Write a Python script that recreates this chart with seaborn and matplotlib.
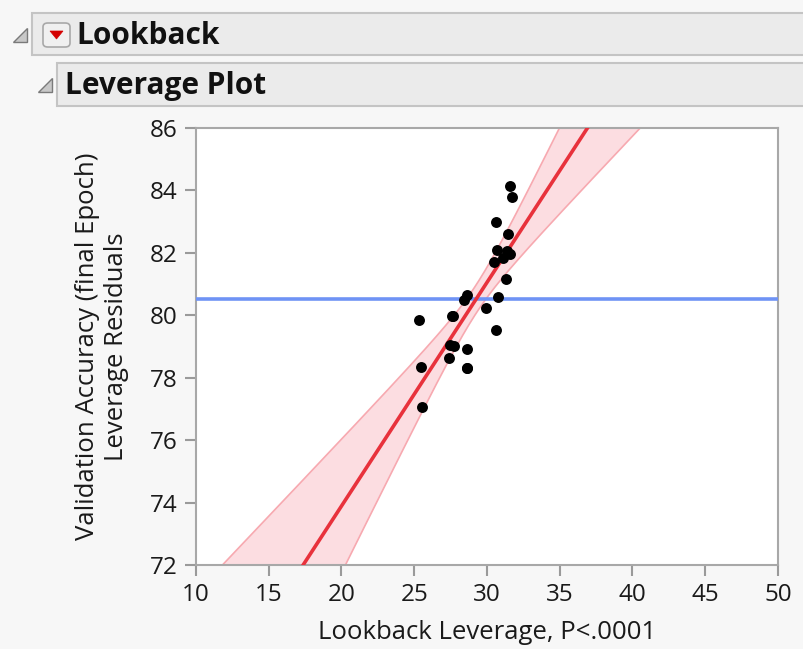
import numpy as np
import pandas as pd
import seaborn as sns
import matplotlib
matplotlib.use("Agg")
import matplotlib.pyplot as plt
from matplotlib.patches import Rectangle, Polygon, FancyBboxPatch

# Lookback leverage vs. validation accuracy residuals
lookback = [31.59, 31.70, 30.62, 31.43, 30.69, 31.38, 31.59, 30.48, 31.10, 31.31,
            28.60, 28.43, 30.78, 29.93, 25.31, 27.57, 27.66, 30.60, 27.45, 27.72,
            28.60, 27.40, 25.45, 28.64, 28.64, 25.50]
accuracy = [84.15, 83.78, 82.98, 82.60, 82.09, 82.06, 81.96, 81.71, 81.83, 81.16,
            80.65, 80.49, 80.57, 80.24, 79.85, 79.98, 79.97, 79.53, 79.04, 79.01,
            78.91, 78.62, 78.33, 78.32, 78.32, 77.05]

x_ticks = [10, 15, 20, 25, 30, 35, 40, 45, 50]
y_ticks = [72, 74, 76, 78, 80, 82, 84, 86]
x_label = "Lookback Leverage, P<.0001"
y_label = "Validation Accuracy (final Epoch)\nLeverage Residuals"
outline_title = "Lookback"
plot_title = "Leverage Plot"
t_crit = 2.064  # two-sided 95% t quantile, n - 2 = 24 df

sns.set_theme(style="white")
plt.rcParams["font.family"] = ["Open Sans", "DejaVu Sans"]

W, H = 804, 649
BG = "#f7f7f7"
fig = plt.figure(figsize=(W / 100, H / 100), dpi=100, facecolor=BG)


def fx(px):
    return px / W


def fy(py):
    return 1 - py / H


# ---- outline headers ----
def header_bar(x0, y0, y1):
    fig.patches.append(Rectangle((fx(x0), fy(y1)), fx(W + 5) - fx(x0), fy(y0) - fy(y1),
                                 transform=fig.transFigure, facecolor="#ebebeb",
                                 edgecolor="#c4c4c4", linewidth=1.5))


def disclosure(cx, cy, size=14):
    pts = [(fx(cx + size / 2), fy(cy - size / 2)), (fx(cx + size / 2), fy(cy + size / 2)),
           (fx(cx - size / 2), fy(cy + size / 2))]
    fig.patches.append(Polygon(pts, closed=True, transform=fig.transFigure,
                               facecolor="#c8c8c8", edgecolor="#7a7a7a", linewidth=1.0))


header_bar(32, 13, 55)
header_bar(57, 63, 106)
disclosure(20, 35)
disclosure(45, 85)

# red drop-down menu button
fig.patches.append(FancyBboxPatch((fx(43), fy(47)), fx(70) - fx(43), fy(23) - fy(47),
                                  boxstyle="round,pad=0,rounding_size=0.006",
                                  transform=fig.transFigure, facecolor="#f0f0f0",
                                  edgecolor="#a8a8a8", linewidth=1.2))
fig.patches.append(Polygon([(fx(50), fy(31)), (fx(63), fy(31)), (fx(56.5), fy(39))],
                           closed=True, transform=fig.transFigure,
                           facecolor="#d40000", edgecolor="#d40000", linewidth=0.5))

fig.text(fx(76), fy(36), outline_title, fontsize=21.5, fontweight="bold",
         ha="left", va="center", color="#111111")
fig.text(fx(65), fy(86), plot_title, fontsize=21.5, fontweight="bold",
         ha="left", va="center", color="#111111")

# ---- leverage plot ----
ax = fig.add_axes([fx(196), fy(565), fx(778) - fx(196), fy(128) - fy(565)])
ax.set_facecolor("white")

xs = np.asarray(lookback)
ys = np.asarray(accuracy)
n = len(xs)
slope, intercept = np.polyfit(xs, ys, 1)
resid = ys - (intercept + slope * xs)
s = np.sqrt(np.sum(resid ** 2) / (n - 2))
sxx = np.sum((xs - xs.mean()) ** 2)

grid = np.linspace(x_ticks[0], x_ticks[-1], 400)
fit = intercept + slope * grid
half = t_crit * s * np.sqrt(1 / n + (grid - xs.mean()) ** 2 / sxx)

ax.fill_between(grid, fit - half, fit + half, color="#fcdde1", linewidth=0, zorder=1)
sns.lineplot(x=grid, y=fit - half, ax=ax, color="#f7a9b0", linewidth=1.2, zorder=2)
sns.lineplot(x=grid, y=fit + half, ax=ax, color="#f7a9b0", linewidth=1.2, zorder=2)
ax.axhline(ys.mean(), color="#6f93f5", linewidth=2.6, zorder=3)
sns.lineplot(x=grid, y=fit, ax=ax, color="#e8323c", linewidth=2.6, zorder=4)
sns.scatterplot(x=xs, y=ys, ax=ax, color="black", s=62, linewidth=0, zorder=5)

ax.set_xlim(x_ticks[0], x_ticks[-1])
ax.set_ylim(y_ticks[0], y_ticks[-1])
ax.set_xticks(x_ticks)
ax.set_yticks(y_ticks)
ax.tick_params(axis="both", which="major", direction="out", length=8, width=1.5,
               color="#9a9a9a", labelsize=17.5, labelcolor="#1a1a1a", pad=5,
               bottom=True, left=True)
for sp in ax.spines.values():
    sp.set_color("#a8a8a8")
    sp.set_linewidth(1.5)

ax.set_xlabel(x_label, fontsize=18.5, color="#1a1a1a", labelpad=9)
ax.set_ylabel(y_label, fontsize=18.5, color="#1a1a1a", labelpad=15, linespacing=1.2)

fig.savefig("out.png", dpi=100, facecolor=BG)
